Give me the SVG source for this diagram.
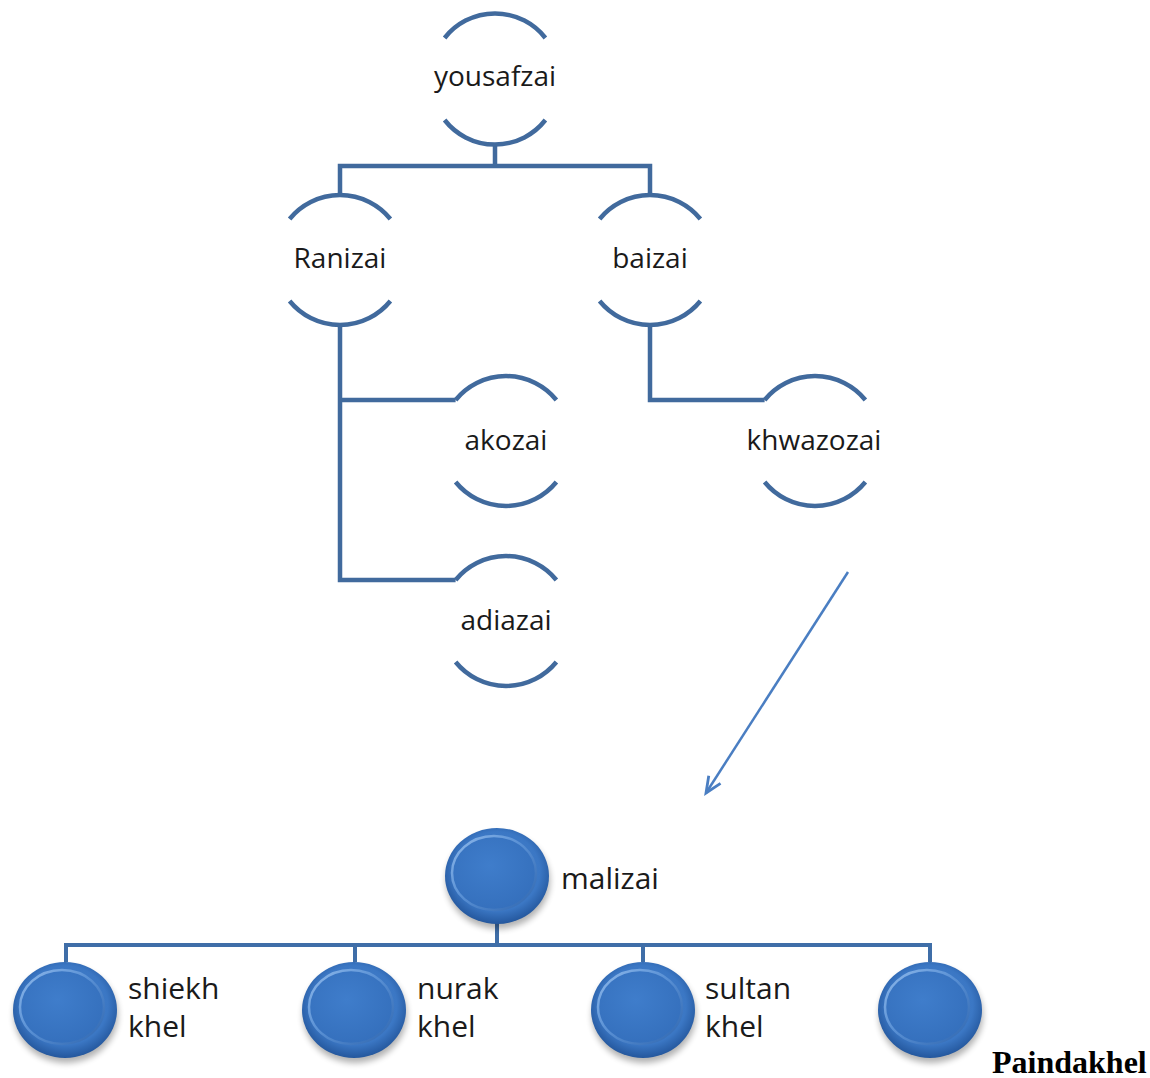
<svg xmlns="http://www.w3.org/2000/svg" width="1150" height="1078" viewBox="0 0 1150 1078">
  <style>
    .arc { fill: none; stroke: #416a9d; stroke-width: 4.5; stroke-linecap: butt; }
    .conn { fill: none; stroke: #416a9d; stroke-width: 4.5; stroke-linejoin: miter; }
    .bconn { fill: none; stroke: #3f6ea8; stroke-width: 4; }
    .lbl { font-family: "Open Sans", "Noto Sans", "DejaVu Sans", sans-serif; font-size: 28px; fill: #1a1a1a; }
    .blbl { font-family: "Open Sans", "Noto Sans", "DejaVu Sans", sans-serif; font-size: 30px; fill: #1a1a1a; }
    .mid { text-anchor: middle; }
    .bold { font-family: "Liberation Serif", "Times New Roman", serif; font-weight: bold; font-size: 32px; fill: #000; }
    .arrow { fill: none; stroke: #4a7ec2; stroke-width: 2.5; }
  </style>
  <defs>
    <radialGradient id="outerG" cx="50%" cy="45%" r="55%">
      <stop offset="0" stop-color="#4a86d0"/>
      <stop offset="0.75" stop-color="#3b77c4"/>
      <stop offset="1" stop-color="#24579d"/>
    </radialGradient>
    <linearGradient id="rimG" x1="0" y1="0" x2="1" y2="1">
      <stop offset="0" stop-color="#8fb9ea"/>
      <stop offset="0.45" stop-color="#5a91d5"/>
      <stop offset="1" stop-color="#2f66af"/>
    </linearGradient>
    <radialGradient id="innerG" cx="45%" cy="40%" r="60%">
      <stop offset="0" stop-color="#3f7dcb"/>
      <stop offset="1" stop-color="#3570bd"/>
    </radialGradient>
    <filter id="shadow" x="-30%" y="-30%" width="160%" height="160%">
      <feGaussianBlur stdDeviation="3"/>
    </filter>
    <marker id="openArrow" markerUnits="userSpaceOnUse" markerWidth="24" markerHeight="24" viewBox="0 0 24 24" refX="21" refY="12" orient="auto">
      <path d="M5,5 L21,12 L5,19" fill="none" stroke="#4a7ec2" stroke-width="2.8"/>
    </marker>
    <g id="button">
      <ellipse cx="1" cy="5" rx="52" ry="48" fill="#000" opacity="0.3" filter="url(#shadow)"/>
      <ellipse cx="0" cy="0" rx="52" ry="48" fill="url(#outerG)"/>
      <ellipse cx="-3" cy="-3" rx="42" ry="37" fill="url(#innerG)" stroke="url(#rimG)" stroke-width="2.5"/>
    </g>
  </defs>

  <rect width="1150" height="1078" fill="#fff"/>

  <g id="connectors">
    <path class="conn" d="M495,144 V166 M340,195 V166 H650 V195"/>
    <path class="conn" d="M340,325 V580 H455.6 M340,400 H455.6"/>
    <path class="conn" d="M650,325 V400 H764.6"/>
    <path class="arrow" d="M848,572 L706,793" marker-end="url(#openArrow)"/>
    <path class="bconn" d="M497,922 V945 M66,962 V945 H930 V962 M355,945 V962 M643,945 V962"/>
  </g>

  <g id="node-yousafzai">
    <path class="arc" d="M444.6,38 A64 64 0 0 1 545.4,38"/>
    <path class="arc" d="M444.6,120 A64 64 0 0 0 545.4,120"/>
    <text class="lbl mid" x="495" y="86">yousafzai</text>
  </g>
  <g id="node-ranizai">
    <path class="arc" d="M289.6,219 A65 65 0 0 1 390.4,219"/>
    <path class="arc" d="M289.6,301 A65 65 0 0 0 390.4,301"/>
    <text class="lbl mid" x="340" y="268">Ranizai</text>
  </g>
  <g id="node-baizai">
    <path class="arc" d="M599.6,219 A65 65 0 0 1 700.4,219"/>
    <path class="arc" d="M599.6,301 A65 65 0 0 0 700.4,301"/>
    <text class="lbl mid" x="650" y="268">baizai</text>
  </g>
  <g id="node-akozai">
    <path class="arc" d="M455.6,400 A65 65 0 0 1 556.4,400"/>
    <path class="arc" d="M455.6,482 A65 65 0 0 0 556.4,482"/>
    <text class="lbl mid" x="506" y="450">akozai</text>
  </g>
  <g id="node-adiazai">
    <path class="arc" d="M455.6,580 A65 65 0 0 1 556.4,580"/>
    <path class="arc" d="M455.6,662 A65 65 0 0 0 556.4,662"/>
    <text class="lbl mid" x="506" y="630">adiazai</text>
  </g>
  <g id="node-khwazozai">
    <path class="arc" d="M764.6,400 A65 65 0 0 1 865.4,400"/>
    <path class="arc" d="M764.6,482 A65 65 0 0 0 865.4,482"/>
    <text class="lbl mid" x="814" y="450">khwazozai</text>
  </g>

  <g id="node-malizai">
    <use href="#button" x="497" y="876"/>
    <text class="blbl" x="561" y="889">malizai</text>
  </g>
  <g id="node-shiekh-khel">
    <use href="#button" x="65" y="1010"/>
    <text class="blbl" x="128" y="999"><tspan x="128" y="999">shiekh</tspan><tspan x="128" y="1037">khel</tspan></text>
  </g>
  <g id="node-nurak-khel">
    <use href="#button" x="354" y="1010"/>
    <text class="blbl" x="417" y="999"><tspan x="417" y="999">nurak</tspan><tspan x="417" y="1037">khel</tspan></text>
  </g>
  <g id="node-sultan-khel">
    <use href="#button" x="643" y="1010"/>
    <text class="blbl" x="705" y="999"><tspan x="705" y="999">sultan</tspan><tspan x="705" y="1037">khel</tspan></text>
  </g>
  <g id="node-paindakhel">
    <use href="#button" x="930" y="1010"/>
    <text class="bold" x="992" y="1073">Paindakhel</text>
  </g>
</svg>
